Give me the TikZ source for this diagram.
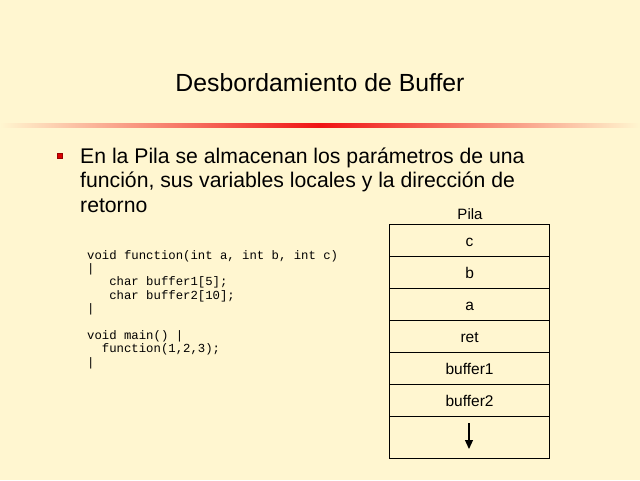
\documentclass[tikz,border=0pt]{standalone}
\usepackage{fontspec}
\setmainfont{Liberation Sans}
\newfontfamily\codefont{Liberation Mono}
\usetikzlibrary{arrows.meta}
\definecolor{bgc}{RGB}{255,246,208}
\definecolor{redline}{RGB}{240,20,20}
\newcommand{\celltext}[1]{\raisebox{-6pt}[0pt][0pt]{#1}}
\begin{document}
\begin{tikzpicture}[x=1pt,y=-1pt,
  txt/.style={inner sep=0pt, anchor=base west, font=\fontsize{21.2}{24}\selectfont},
  code/.style={inner sep=0pt, anchor=base west, font=\codefont\fontsize{12.3}{13}\selectfont},
  cell/.style={draw=black, line width=1.2pt, minimum width=160pt, minimum height=32pt, inner sep=0pt, font=\fontsize{15.5}{17}\selectfont, anchor=north west}]
\useasboundingbox (0,0) rectangle (640,480);
\fill[bgc] (0,0) rectangle (640,480);
% title
\node[inner sep=0pt, anchor=base, font=\fontsize{24.8}{28}\selectfont] (title) at (320,91.5) {Desbordamiento de Buffer};
% gradient line
\shade[left color=bgc, right color=redline] (0,123) rectangle (320,127.5);
\shade[left color=redline, right color=bgc] (320,123) rectangle (640,127.5);
% bullet
\node[fill=red!85!black, draw=red!60!black, line width=0.4pt, minimum size=5pt, inner sep=0pt] (bul) at (59.5,155.5) {};
% text
\node[txt] (l1) at (80,163) {En la Pila se almacenan los parámetros de una};
\node[txt] (l2) at (80,187.5) {función, sus variables locales y la dirección de};
\node[txt] (l3) at (80,212) {retorno};
% code
\node[code] (c1) at (87,259) {void function(int a, int b, int c)};
\node[code] (c2) at (87,272.4) {|};
\node[code] (c3) at (87,285.8) {\ \ \ char buffer1[5];};
\node[code] (c4) at (87,299.2) {\ \ \ char buffer2[10];};
\node[code] (c5) at (87,312.6) {|};
\node[code] (c6) at (87,339.4) {void main() |};
\node[code] (c7) at (87,352.8) {\ \ function(1,2,3);};
\node[code] (c8) at (87,366.2) {|};
% stack
\node[inner sep=0pt, anchor=base, font=\fontsize{15}{17}\selectfont] (pila) at (470,219) {Pila};
\node[cell] (sc) at (389,223.5) {\celltext{c}};
\node[cell] (sb) at (389,255.5) {\celltext{b}};
\node[cell] (sa) at (389,287.5) {\celltext{a}};
\node[cell] (sr) at (389,319.5) {\celltext{ret}};
\node[cell] (s1) at (389,351.5) {\celltext{buffer1}};
\node[cell] (s2) at (389,383.5) {\celltext{buffer2}};
\node[cell, minimum height=42.5pt] (se) at (389,415.5) {};
\coordinate (ar1) at (469,423);
\coordinate (ar2) at (469,449);
\draw[line width=1.2pt, -{Triangle[length=9pt,width=8pt]}] (ar1) -- (ar2);
\end{tikzpicture}
\end{document}
